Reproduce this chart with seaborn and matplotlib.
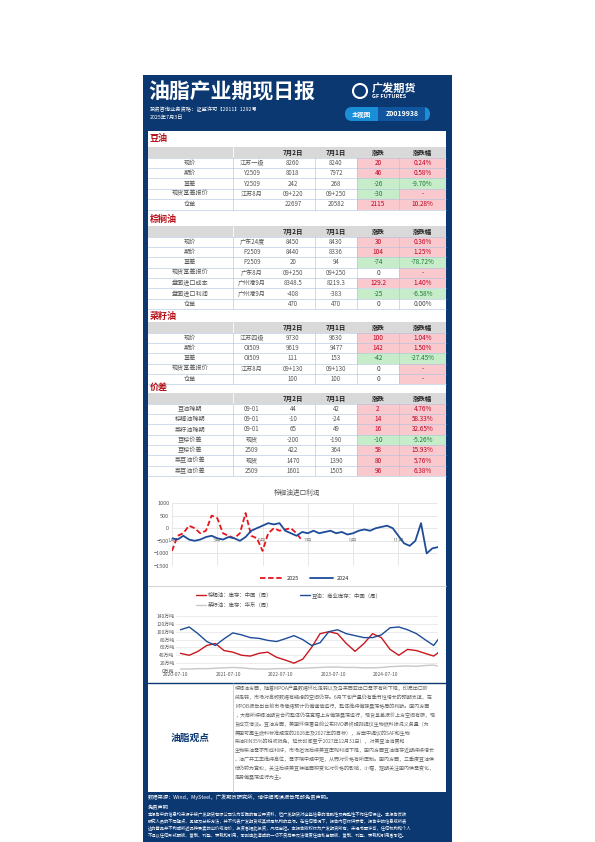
import matplotlib
matplotlib.use("Agg")
import matplotlib.pyplot as plt
import matplotlib.patches as mpatches
import seaborn as sns
import pandas as pd
import textwrap

sns.set_theme(style="white")
plt.rcParams['font.family'] = ['Noto Sans CJK SC', 'DejaVu Sans']

NAVY = "#0c3872"
RED_BG, RED_TX = "#f9c9ce", "#c00020"
GRN_BG, GRN_TX = "#c7ecc9", "#1e7b36"
GRID = "#a9c1e0"

# ---------------- data ----------------
dates_hdr = ["7月2日", "7月1日", "涨跌", "涨跌幅"]

soy_rows = ["现价", "期价", "基差", "现货基差报价", "仓单"]
soy_spec = ["江苏一级", "Y2509", "Y2509", "江苏8月", ""]
soy_d1 = ["8260", "8018", "242", "09+220", "22697"]
soy_d2 = ["8240", "7972", "268", "09+250", "20582"]
soy_chg = ["20", "46", "-26", "-30", "2115"]
soy_pct = ["0.24%", "0.58%", "-9.70%", "-", "10.28%"]

palm_rows = ["现价", "期价", "基差", "现货基差报价", "盘面进口成本", "盘面进口利润", "仓单"]
palm_spec = ["广东24度", "P2509", "P2509", "广东8月", "广州港9月", "广州港9月", ""]
palm_d1 = ["8450", "8440", "20", "09+250", "8348.5", "-408", "470"]
palm_d2 = ["8430", "8336", "94", "09+250", "8219.3", "-383", "470"]
palm_chg = ["30", "104", "-74", "0", "129.2", "-25", "0"]
palm_pct = ["0.36%", "1.25%", "-78.72%", "-", "1.40%", "-6.58%", "0.00%"]

rape_rows = ["现价", "期价", "基差", "现货基差报价", "仓单"]
rape_spec = ["江苏四级", "OI509", "OI509", "江苏8月", ""]
rape_d1 = ["9730", "9619", "111", "09+130", "100"]
rape_d2 = ["9630", "9477", "153", "09+130", "100"]
rape_chg = ["100", "142", "-42", "0", "0"]
rape_pct = ["1.04%", "1.50%", "-27.45%", "-", "-"]

spr_rows = ["豆油跨期", "棕榈油跨期", "菜籽油跨期", "豆棕价差", "豆棕价差", "菜豆油价差", "菜豆油价差"]
spr_spec = ["09-01", "09-01", "09-01", "现货", "2509", "现货", "2509"]
spr_d1 = ["44", "-10", "65", "-200", "422", "1470", "1601"]
spr_d2 = ["42", "-24", "49", "-190", "364", "1390", "1505"]
spr_chg = ["2", "14", "16", "-10", "58", "80", "96"]
spr_pct = ["4.76%", "58.33%", "32.65%", "-5.26%", "15.93%", "5.76%", "6.38%"]

# palm import profit (yuan/t), 2024 and 2025 by week index
profit_2024 = [-400, -450, -300, -450, -500, -450, -350, -300, -400, -450, -350, -400, -500, -350,
               -100, 0, 100, 200, 150, 200, -100, -200, -300, -150, -200, -100, -200, -150,
               -100, -200, -150, -250, -200, -100, -50, -100, 0, 50, 100, 0,
               -300, -600, -700, -500, 200, -1000, -800, -750]
profit_2025 = [-900, -300, -200, 100, 0, -200, -100, 500, 400, -200, -300, -400, -200, 600,
               -300, -400, -900, -200, 0, -100, -50, 0, -200, -500]
month_lbl = ["1月", "3月", "5月", "7月", "9月", "11月"]

stock_dates = pd.date_range("2020-07-10", periods=31, freq="2MS") + pd.Timedelta(days=9)
stock_soy = [105, 112, 95, 75, 65, 82, 97, 92, 85, 83, 78, 75, 82, 90, 80, 65, 72, 100, 105, 95,
             90, 85, 85, 92, 110, 112, 105, 95, 80, 65, 95]
stock_palm = [45, 40, 50, 65, 70, 52, 48, 40, 38, 45, 48, 35, 28, 20, 30, 60, 95, 100, 95, 70,
              50, 70, 95, 85, 55, 40, 55, 52, 45, 38, 55]
stock_rape = [5, 5, 6, 6, 7, 8, 9, 8, 6, 5, 5, 6, 6, 7, 7, 8, 9, 10, 10, 9, 9, 8, 8, 9, 11, 12,
              13, 12, 14, 15, 10]
stock_ticks = ["2020-07-10", "2021-07-10", "2022-07-10", "2023-07-10", "2024-07-10"]

view_text = ("棕榈油方面，随着MPOA产量数据环比走弱以及马来西亚出口需求有所下降，印尼出口阶段"
             "走弱，市场对高频数据有疑虑的空间仍存。6月下旬产量仍有季节性增长的预"
             "期支撑，在MPOB报告出台前市场情绪预计仍偏谨慎运行，整体维持偏强震荡格局"
             "的判断。国内方面，大商所棕榈油期货合约整体仍在宽幅上方偏强震荡运行，现货基"
             "差报价上方空间有限，现货成交清淡。豆油方面，美国环保"
             "署日前公布RVO最终规则提议生物燃料掺混义务量（为美国可再生燃料标准规定的2026年及"
             "2027年的目标），方案中提议的SAF和生物柴油RIN35%的税收抵免，延长时间至于2027年"
             "12月31日），对美豆油消费和生物柴油需求形成利好，市场担忧后续美豆压榨利润下降"
             "，国内方面豆油库存近期持续增长、油厂开工率维持高位，需求端中规中矩，从而对"
             "价格有所压制。国内方面，三季度豆油供给仍较为宽松，关注后续美豆种植面积变化"
             "对价格的影响，小幅，短期关注国内供需变化，走势偏震荡运行为主。")

disclaimer = ["本报告中的信息均来源于被广发期货有限公司认为可靠的已公开资料，但广发期货对这些信息的准确性及完整性不作任何保证。本报告反映",
              "研究人员的不同观点、见解及分析方法，并不代表广发期货或其附属机构的立场。在任何情况下，报告内容仅供参考，报告中的信息或所表",
              "达的意见并不构成所述品种买卖的出价或询价，投资者据此投资，风险自担。本报告版权仅为广发期货所有，未经书面许可，任何机构和个人",
              "不得以任何形式翻版、复制、刊登、转载和引用，否则由此造成的一切不良后果及法律责任由私自翻版、复制、刊登、转载和引用者承担。"]

# ---------------- page ----------------
fig = plt.figure(figsize=(5.95, 8.42), dpi=100)
pg = fig.add_axes([0, 0, 1, 1])
pg.set_xlim(0, 595)
pg.set_ylim(842, 0)
pg.axis("off")

def rect(x0, y0, x1, y1, fc, ec="none", lw=0.5, z=1):
    pg.add_patch(mpatches.Rectangle((x0, y0), x1 - x0, y1 - y0, fc=fc, ec=ec, lw=lw, zorder=z))

def txt(x, y, s, size=4.6, color="#333333", ha="center", weight="normal", z=5):
    pg.text(x, y, s, fontsize=size, color=color, ha=ha, va="center", fontweight=weight, zorder=z)

rect(143, 75, 452, 842, NAVY)
txt(148, 92, "油脂产业期现日报", 15, "white", "left", "bold")
txt(372, 88, "广发期货", 8, "white", "left", "bold")
txt(372, 97, "GF FUTURES", 4, "white", "left", "bold")
pg.add_patch(mpatches.Circle((360, 91), 7, fc="none", ec="white", lw=1.5, zorder=5))
txt(150, 109, "投资咨询业务资格：证监许可【2011】1292号", 3.8, "white", "left")
txt(150, 117, "2025年7月3日", 3.8, "white", "left")
pg.add_patch(mpatches.FancyBboxPatch((345, 107), 85, 14, boxstyle="round,pad=0,rounding_size=7",
                                     fc="#1a8fd8", ec="none", zorder=3))
rect(378, 107, 425, 121, "#11559e", z=4)
txt(361, 114, "主视图", 4.6, "white", weight="bold")
txt(402, 114, "Z0019938", 5, "white", weight="bold")

rect(148, 131, 446, 792, "white")

CENT = [190, 252, 293, 336, 378, 422]

def section(title, ytitle, yh, rows, spec, d1, d2, chg, pct, rh=10.4):
    txt(150, ytitle, title, 6.5, "#b5121b", "left", "bold")
    rect(148, yh, 446, yh + 10.5, "#d9d9d9")
    for c, h in zip(CENT[2:], dates_hdr):
        txt(c, yh + 5.3, h, 4.6, "#222222", weight="bold")
    pg.plot([233, 233], [yh, yh + 10.5], color="white", lw=0.6, zorder=3)
    y = yh + 10.5
    for i in range(len(rows)):
        for val, x0, x1 in [(chg[i], 357, 399), (pct[i], 399, 446)]:
            if val == "-":
                rect(x0, y, x1, y + rh, RED_BG); col = RED_TX
            elif val.startswith("-"):
                rect(x0, y, x1, y + rh, GRN_BG); col = GRN_TX
            elif float(val.rstrip("%")) == 0:
                col = "#444444"
            else:
                rect(x0, y, x1, y + rh, RED_BG); col = RED_TX
            txt((x0 + x1) / 2, y + rh / 2, val, 4.6, col)
        for c, v in zip(CENT[:4], [rows[i], spec[i], d1[i], d2[i]]):
            txt(c, y + rh / 2, v, 4.4, "#555555")
        pg.plot([148, 446], [y, y], color=GRID, lw=0.4, zorder=3)
        y += rh
    pg.plot([148, 446], [y, y], color=GRID, lw=0.4, zorder=3)
    for x in [233, 315, 357, 399]:
        pg.plot([x, x], [yh + 10.5, y], color=GRID, lw=0.4, zorder=3)

section("豆油", 139, 147, soy_rows, soy_spec, soy_d1, soy_d2, soy_chg, soy_pct)
section("棕榈油", 219, 226, palm_rows, palm_spec, palm_d1, palm_d2, palm_chg, palm_pct)
section("菜籽油", 316, 322, rape_rows, rape_spec, rape_d1, rape_d2, rape_chg, rape_pct)
section("价差", 387, 393, spr_rows, spr_spec, spr_d1, spr_d2, spr_chg, spr_pct)

# ---------------- chart 1 ----------------
pg.plot([148, 446], [585.5, 585.5], color="#cccccc", lw=0.6, zorder=3)
txt(297, 493, "棕榈油进口利润", 4.8, "#555555")
ax1 = fig.add_axes([172 / 595, 1 - 566 / 842, 266 / 595, 63 / 842])
d24 = pd.DataFrame({"x": range(len(profit_2024)), "y": profit_2024})
d25 = pd.DataFrame({"x": range(len(profit_2025)), "y": profit_2025})
sns.lineplot(data=d25, x="x", y="y", ax=ax1, color="#e8141b", lw=1.3, linestyle=(0, (3, 1.5)), label="2025")
sns.lineplot(data=d24, x="x", y="y", ax=ax1, color="#1e4c99", lw=1.3, label="2024")
ax1.set_ylim(-1500, 1000)
ax1.set_yticks([-1500, -1000, -500, 0, 500, 1000])
ax1.set_xlim(0, 47)
ax1.set_xticks([0, 8, 16, 24, 32, 40])
ax1.set_xticklabels(month_lbl)
ax1.tick_params(axis="x", pad=-20, labelsize=4, colors="#888888", length=0)
ax1.tick_params(axis="y", labelsize=4, colors="#555555", length=0, pad=2)
ax1.grid(True, color="#dddddd", lw=0.5)
ax1.set_xlabel(""); ax1.set_ylabel("")
for s in ax1.spines.values():
    s.set_visible(False)
ax1.legend(loc="upper center", bbox_to_anchor=(0.5, -0.08), ncol=2, frameon=False, fontsize=4,
           handlelength=4)

# ---------------- chart 2 ----------------
ax2 = fig.add_axes([176 / 595, 1 - 671 / 842, 262 / 595, 55 / 842])
sd = pd.DataFrame({"date": stock_dates, "palm": stock_palm, "soy": stock_soy, "rape": stock_rape})
sns.lineplot(data=sd, x="date", y="palm", ax=ax2, color="#c8171e", lw=1)
sns.lineplot(data=sd, x="date", y="soy", ax=ax2, color="#1e4c99", lw=1)
sns.lineplot(data=sd, x="date", y="rape", ax=ax2, color="#c8c8c8", lw=1)
ax2.set_ylim(0, 140)
ax2.set_yticks(range(0, 141, 20))
ax2.set_yticklabels([f"{v}万吨" for v in range(0, 141, 20)])
ax2.set_xlim(pd.Timestamp("2020-07-10"), pd.Timestamp("2025-07-10"))
ax2.set_xticks(pd.to_datetime(stock_ticks))
ax2.set_xticklabels(stock_ticks)
ax2.tick_params(labelsize=3.5, colors="#555555", length=0, pad=1)
ax2.grid(True, axis="y", color="#e3e3e3", lw=0.5)
ax2.set_xlabel(""); ax2.set_ylabel("")
for s in ax2.spines.values():
    s.set_visible(False)
pg.plot([196, 206], [595, 595], color="#c8171e", lw=1, zorder=5)
txt(208, 595, "棕榈油：库存：中国（周）", 3.9, "#555555", "left")
pg.plot([300, 310], [595, 595], color="#1e4c99", lw=1, zorder=5)
txt(312, 595, "豆油：商业库存：中国（周）", 3.9, "#555555", "left")
pg.plot([196, 206], [605, 605], color="#c8c8c8", lw=1, zorder=5)
txt(208, 605, "菜籽油：库存：华东（周）", 3.9, "#555555", "left")

# ---------------- view ----------------
pg.plot([148, 446], [683, 683], color=NAVY, lw=1, zorder=3)
pg.plot([233, 233], [683, 792], color=GRID, lw=0.5, zorder=3)
txt(190, 738, "油脂观点", 7, NAVY, weight="bold")
wrapped = "\n".join(textwrap.wrap(view_text, 40))
pg.text(235, 686, wrapped, fontsize=3.6, color="#666666", ha="left", va="top", linespacing=1.75, zorder=5)

txt(148, 797, "数据来源：Wind，MySteel，广发期货研究所，请仔细阅读报告尾部免责声明。", 3.8, "white", "left")
txt(148, 807, "免责声明", 3.8, "white", "left")
for i, line in enumerate(disclaimer):
    txt(148, 815 + i * 7, line, 3.1, "white", "left")

fig.savefig("out.png", dpi=100)
